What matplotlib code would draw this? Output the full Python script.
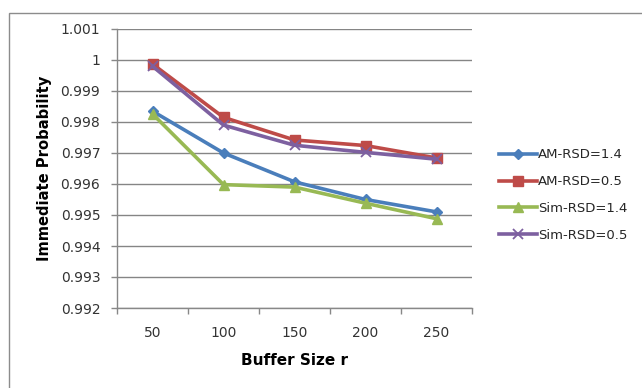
import matplotlib
matplotlib.use('Agg')
import matplotlib.pyplot as plt
from matplotlib.patches import Rectangle

plt.rcParams['font.family'] = ['DejaVu Sans']

# Data
buffer_sizes = ['50', '100', '150', '200', '250']
am_rsd_14 = [0.99835, 0.9970, 0.99607, 0.9955, 0.9951]
am_rsd_05 = [0.99987, 0.99815, 0.99742, 0.99724, 0.99684]
sim_rsd_14 = [0.99826, 0.99598, 0.9959, 0.99538, 0.99488]
sim_rsd_05 = [0.9998, 0.9979, 0.99725, 0.99702, 0.9968]
y_ticks = [0.992, 0.993, 0.994, 0.995, 0.996, 0.997, 0.998, 0.999, 1.0, 1.001]
y_labels = ['0.992', '0.993', '0.994', '0.995', '0.996', '0.997', '0.998', '0.999', '1', '1.001']

fig = plt.figure(figsize=(6.42, 3.88), dpi=100)
ax = fig.add_axes([117/642, 1 - 308/388, 355/642, 279/388])

# outer chart frame (runs off the right and bottom edge)
fig.patches.append(Rectangle((8.5/642, -0.05), 1.1, 1 - 12.5/388 + 0.05,
                             transform=fig.transFigure, fill=False,
                             edgecolor='#8c8c8c', linewidth=1.0))

x = range(len(buffer_sizes))
ax.plot(x, am_rsd_14, color='#4A7EBB', lw=2.6, marker='D', ms=5.5, label='AM-RSD=1.4')
ax.plot(x, am_rsd_05, color='#BE4B48', lw=2.6, marker='s', ms=7, label='AM-RSD=0.5')
ax.plot(x, sim_rsd_14, color='#98B954', lw=2.6, marker='^', ms=7.5, label='Sim-RSD=1.4')
ax.plot(x, sim_rsd_05, color='#7D60A0', lw=2.6, marker='x', ms=7, mew=1.3, label='Sim-RSD=0.5')

ax.set_xlim(-0.5, len(buffer_sizes) - 0.5)
ax.set_ylim(0.992, 1.001)
ax.set_yticks(y_ticks)
ax.set_yticklabels(y_labels)
ax.set_xticks(list(x))
ax.set_xticklabels(buffer_sizes)
ax.set_xticks([i - 0.5 for i in range(len(buffer_sizes) + 1)], minor=True)
ax.tick_params(axis='x', which='major', length=0, pad=13, labelsize=10, colors='#333333')
ax.tick_params(axis='x', which='minor', length=4, width=1, color='#888888', direction='out')
ax.tick_params(axis='y', length=4, width=1, color='#888888', pad=8, labelsize=10, labelcolor='#333333')

ax.grid(axis='y', color='#858585', lw=1.0)
ax.set_axisbelow(True)
for side in ['top', 'right']:
    ax.spines[side].set_visible(False)
for side in ['left', 'bottom']:
    ax.spines[side].set_color('#888888')
    ax.spines[side].set_linewidth(1.0)

ax.set_xlabel('Buffer Size r', fontsize=11, fontweight='bold', labelpad=9)
ax.set_ylabel('Immediate Probability', fontsize=10.6, fontweight='bold', labelpad=6)

fig.legend(loc='center left', bbox_to_anchor=(0.758, 0.497), frameon=False,
           fontsize=9.5, handlelength=2.9, labelspacing=1.05, handletextpad=0.1,
           labelcolor='#262626')

fig.savefig('out.png', dpi=100)
